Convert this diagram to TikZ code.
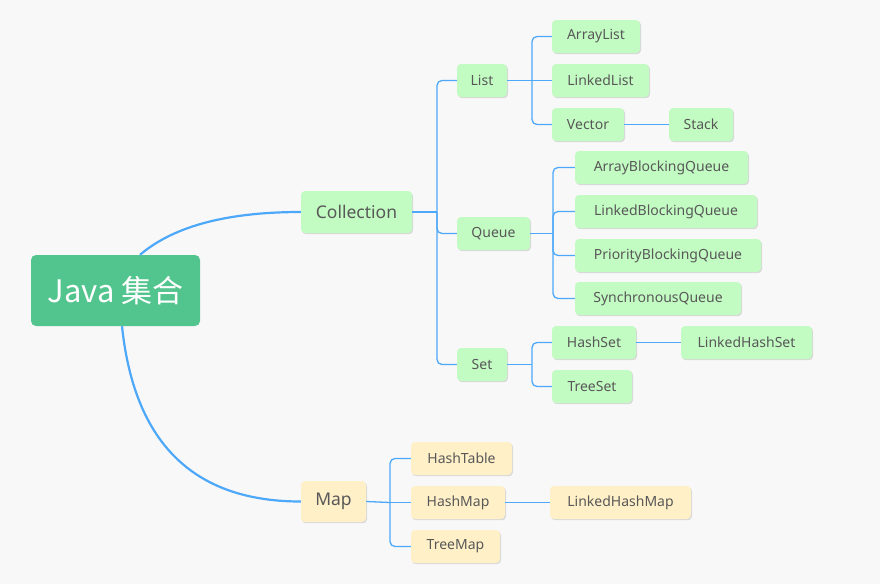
\documentclass[tikz,border=0pt]{standalone}
\usepackage{fontspec}
\setmainfont{Noto Sans}
\newfontfamily\cjkfont{Noto Sans CJK SC}
\usetikzlibrary{shadows}
\definecolor{bgc}{RGB}{248,248,248}
\definecolor{rootc}{RGB}{82,196,141}
\definecolor{leafg}{RGB}{195,252,195}
\definecolor{leafy}{RGB}{255,240,200}
\definecolor{txtc}{RGB}{88,88,88}
\definecolor{linec}{RGB}{77,168,250}
\tikzset{
  box/.style={rounded corners=4pt, text=txtc, inner xsep=0pt, inner ysep=0pt,
    drop shadow={shadow xshift=1pt, shadow yshift=-1.2pt, fill=black!30, opacity=0.45}},
  leaf/.style={box, fill=leafg, minimum height=33pt, font=\fontsize{14}{16}\selectfont},
  mapleaf/.style={box, fill=leafy, minimum height=33pt, font=\fontsize{14}{16}\selectfont},
  mid/.style={box, fill=leafg, minimum height=42pt, font=\fontsize{17.5}{20}\selectfont},
  midy/.style={box, fill=leafy, minimum height=41pt, font=\fontsize{17.5}{20}\selectfont},
  rootbox/.style={rounded corners=5pt, fill=rootc, text=white, minimum width=169pt, minimum height=71pt, inner sep=0pt, font=\cjkfont\fontsize{31}{34}\selectfont},
  main/.style={draw=linec, line width=2.2pt},
  br/.style={draw=linec, line width=1.3pt, rounded corners=5pt},
}
\begin{document}
\begin{tikzpicture}[x=1pt,y=-1pt]
\fill[bgc] (0,0) rectangle (880,584);
\useasboundingbox (0,0) rectangle (880,584);

\node[rootbox] (root) at (115.5,290.5) {Java 集合};

\node[mid, minimum width=111pt] (coll) at (356.5,212) {Collection};
\node[midy, minimum width=65pt] (map) at (333.5,501.5) {Map};

\node[leaf, minimum width=50pt] (list) at (482,80.5) {List};
\node[leaf, minimum width=73pt] (queue) at (493.5,233.5) {Queue};
\node[leaf, minimum width=50pt] (set) at (482,364.5) {Set};

\node[leaf, minimum width=88pt] (arraylist) at (596,36.5) {ArrayList};
\node[leaf, minimum width=97pt] (linkedlist) at (600.5,80.5) {LinkedList};
\node[leaf, minimum width=72pt] (vector) at (588,124.5) {Vector};
\node[leaf, minimum width=64pt] (stack) at (701,124.5) {Stack};

\node[leaf, minimum width=173pt] (abq) at (661.5,167.5) {ArrayBlockingQueue};
\node[leaf, minimum width=182pt] (lbq) at (666,211.5) {LinkedBlockingQueue};
\node[leaf, minimum width=186pt] (pbq) at (668,255.5) {PriorityBlockingQueue};
\node[leaf, minimum width=166pt] (sq) at (658,298.5) {SynchronousQueue};

\node[leaf, minimum width=84pt] (hashset) at (594,342.5) {HashSet};
\node[leaf, minimum width=131pt] (lhs) at (746.5,342.5) {LinkedHashSet};
\node[leaf, minimum width=80pt] (treeset) at (592,386.5) {TreeSet};

\node[mapleaf, minimum width=101pt] (hashtable) at (461.5,458.5) {HashTable};
\node[mapleaf, minimum width=94pt] (hashmap) at (458,502.5) {HashMap};
\node[mapleaf, minimum width=141pt] (lhm) at (620.5,502.5) {LinkedHashMap};
\node[mapleaf, minimum width=89pt] (treemap) at (455.5,546.5) {TreeMap};

% main curves
\draw[main] (root.north -| 140,0) .. controls (175,225) and (230,212) .. (coll.west);
\draw[main] (root.south -| 122,0) .. controls (135,450) and (200,501.5) .. (map.west);

% collection branches
\coordinate (cj) at (437,212);
\draw[br] (coll.east) -- (cj);
\draw[br] (cj) |- (list.west);
\draw[br] (cj) |- (queue.west);
\draw[br] (cj) |- (set.west);

% list branches
\coordinate (lj) at (532,80.5);
\draw[br] (list.east) -- (lj);
\draw[br] (lj) |- (arraylist.west);
\draw[br] (lj) -- (linkedlist.west);
\draw[br] (lj) |- (vector.west);
\draw[br] (vector.east) -- (stack.west);

% queue branches
\coordinate (qj) at (553,233.5);
\draw[br] (queue.east) -- (qj);
\draw[br] (qj) |- (abq.west);
\draw[br] (qj) |- (lbq.west);
\draw[br] (qj) |- (pbq.west);
\draw[br] (qj) |- (sq.west);

% set branches
\coordinate (sj) at (532,364.5);
\draw[br] (set.east) -- (sj);
\draw[br] (sj) |- (hashset.west);
\draw[br] (sj) |- (treeset.west);
\draw[br] (hashset.east) -- (lhs.west);

% map branches
\coordinate (mj) at (390,502.5);
\draw[br] (map.east) -- (mj);
\draw[br] (mj) |- (hashtable.west);
\draw[br] (mj) -- (hashmap.west);
\draw[br] (mj) |- (treemap.west);
\draw[br] (hashmap.east) -- (lhm.west);
\end{tikzpicture}
\end{document}
